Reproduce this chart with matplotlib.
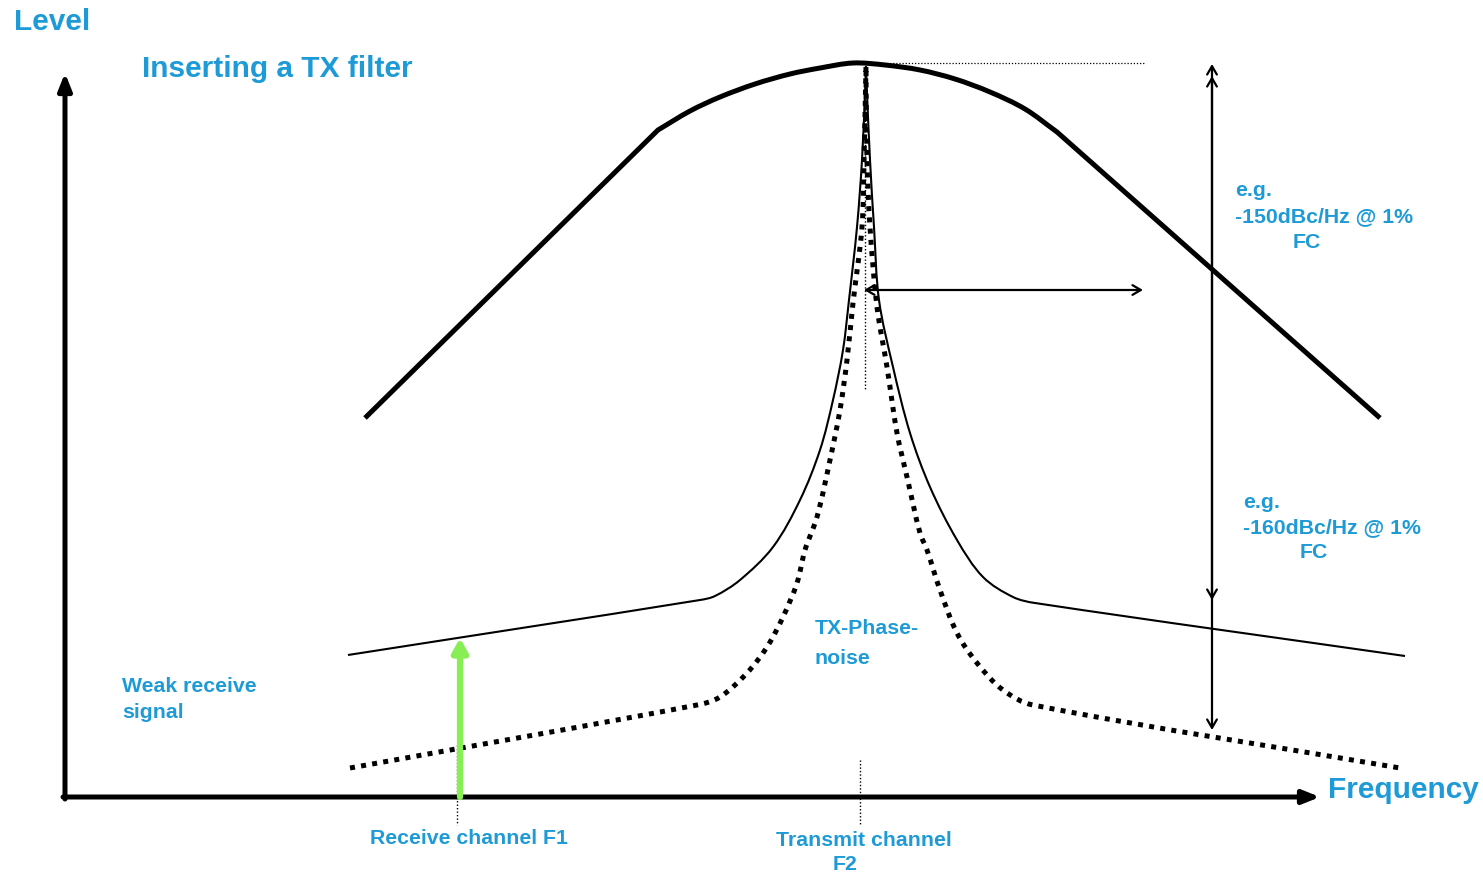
import matplotlib
matplotlib.use("Agg")
import matplotlib.pyplot as plt
import numpy as np
from matplotlib.path import Path
from matplotlib.patches import PathPatch

plt.rcParams['font.family'] = ['Liberation Sans', 'DejaVu Sans']

blue = "#1e9bd7"
green = "#88ee55"

# TX filter response (thick curve), picture coords: skirt, top arc, skirt
filt_lskirt_x = [365, 658]
filt_lskirt_y = [418, 130]
filt_top_x = [658, 690, 720, 755, 790, 820, 853, 885, 920, 955, 990, 1025, 1057]
filt_top_y = [130, 111, 97, 84, 74, 68, 63, 65, 70, 79, 92, 109, 132]
filt_rskirt_x = [1057, 1380]
filt_rskirt_y = [132, 418]

# phase noise without filter (thin solid), left and right flank
noise_left_x = [348, 700, 715, 740, 773, 800, 820, 833, 843, 849, 857, 862, 865, 866]
noise_left_y = [655, 600, 596, 580, 547, 500, 450, 400, 350, 300, 227, 160, 93, 66]
noise_right_x = [866, 867, 870, 874, 879, 893, 910, 930, 957, 983, 1013, 1035, 1405]
noise_right_y = [66, 93, 160, 227, 300, 367, 433, 487, 540, 577, 597, 603, 656]

# phase noise with filter (dotted)
fnoise_left_x = [350, 697, 720, 747, 767, 783, 797, 805, 817, 830, 840, 847, 853, 862, 864, 866]
fnoise_left_y = [768, 705, 697, 673, 647, 617, 583, 550, 517, 460, 410, 360, 303, 227, 160, 66]
fnoise_right_x = [866, 867, 870, 877, 887, 897, 907, 920, 927, 940, 957, 977, 1003, 1033, 1400]
fnoise_right_y = [66, 160, 227, 307, 367, 433, 477, 533, 550, 590, 633, 663, 690, 705, 768]


def smooth_path(pieces):
    # draw each piece as cubic segments through its points
    verts, codes = [], []
    for xs, ys in pieces:
        p = np.column_stack([xs, ys]).astype(float)
        n = len(p)
        d = np.zeros_like(p)
        for i in range(n):
            v = p[min(i + 1, n - 1)] - p[max(i - 1, 0)]
            d[i] = v / np.hypot(*v)
        if not verts:
            verts.append(p[0])
            codes.append(Path.MOVETO)
        for i in range(n - 1):
            L = np.hypot(*(p[i + 1] - p[i]))
            verts += [p[i] + d[i] * L / 3, p[i + 1] - d[i + 1] * L / 3, p[i + 1]]
            codes += [Path.CURVE4] * 3
    return Path(verts, codes)


fig = plt.figure(figsize=(14.83, 8.75), dpi=100)
ax = fig.add_axes([0, 0, 1, 1])
ax.set_xlim(0, 1483)
ax.set_ylim(875, 0)
ax.axis("off")

ax.add_patch(PathPatch(smooth_path([(filt_lskirt_x, filt_lskirt_y), (filt_top_x, filt_top_y),
                                    (filt_rskirt_x, filt_rskirt_y)]),
                       fill=False, edgecolor="black", lw=3.6, capstyle="butt"))
ax.add_patch(PathPatch(smooth_path([(noise_left_x, noise_left_y), (noise_right_x, noise_right_y)]),
                       fill=False, edgecolor="black", lw=1.5))
ax.add_patch(PathPatch(smooth_path([(fnoise_left_x, fnoise_left_y), (fnoise_right_x, fnoise_right_y)]),
                       fill=False, edgecolor="black", lw=3.6, linestyle=(0, (1.0, 1.25)),
                       capstyle="butt"))

# guide lines
ax.plot([852, 1145], [63, 63], color="black", lw=0.9, linestyle=(0, (1, 1.5)))
ax.plot([865, 865], [68, 390], color="black", lw=1.0, linestyle=(0, (1, 1.5)))
ax.plot([860, 860], [760, 825], color="black", lw=1.0, linestyle=(0, (1, 1.5)))
ax.plot([457, 457], [745, 825], color="black", lw=1.0, linestyle=(0, (1, 1.5)))

# axes
ax.annotate("", xy=(65, 73), xytext=(65, 799),
            arrowprops=dict(arrowstyle="-|>,head_length=1.0,head_width=0.4", lw=3.6, color="black",
                            shrinkA=0, shrinkB=0))
ax.annotate("", xy=(1320, 797), xytext=(63, 797),
            arrowprops=dict(arrowstyle="-|>,head_length=1.0,head_width=0.4", lw=3.6, color="black",
                            shrinkA=0, shrinkB=0))

# weak receive signal
ax.annotate("", xy=(460, 638), xytext=(460, 797),
            arrowprops=dict(arrowstyle="-|>,head_length=0.8,head_width=0.45", lw=4.5, color=green,
                            shrinkA=0, shrinkB=0))

# offset arrow
ax.annotate("", xy=(1143, 290), xytext=(864, 290),
            arrowprops=dict(arrowstyle="<->,head_length=0.6,head_width=0.35", lw=1.6, color="black",
                            shrinkA=0, shrinkB=0))

# level difference arrows
ax.annotate("", xy=(1212, 600), xytext=(1212, 64),
            arrowprops=dict(arrowstyle="<->,head_length=0.6,head_width=0.35", lw=1.6, color="black",
                            shrinkA=0, shrinkB=0))
ax.annotate("", xy=(1212, 730), xytext=(1212, 76),
            arrowprops=dict(arrowstyle="<->,head_length=0.6,head_width=0.35", lw=1.6, color="black",
                            shrinkA=0, shrinkB=0))

big = dict(color=blue, fontsize=21.5, fontweight="bold", va="center", ha="left")
small = dict(color=blue, fontsize=15.3, fontweight="bold", va="center", ha="left")

ax.text(14, 22, "Level", **big)
ax.text(142, 69, "Inserting a TX filter", **big)
ax.text(1328, 790, "Frequency", **big)

ax.text(1235, 191, "e.g.", **small)
ax.text(1235, 217, "-150dBc/Hz @ 1%", **small)
ax.text(1293, 242, "FC", **small)
ax.text(1243, 503, "e.g.", **small)
ax.text(1243, 528, "-160dBc/Hz @ 1%", **small)
ax.text(1300, 553, "FC", **small)
ax.text(815, 629, "TX-Phase-", **small)
ax.text(815, 659, "noise", **small)
ax.text(122, 686, "Weak receive", **small)
ax.text(122, 712, "signal", **small)
ax.text(370, 838, "Receive channel F1", **small)
ax.text(776, 840, "Transmit channel", **small)
ax.text(833, 865, "F2", **small)

fig.savefig("out.png", dpi=100)
